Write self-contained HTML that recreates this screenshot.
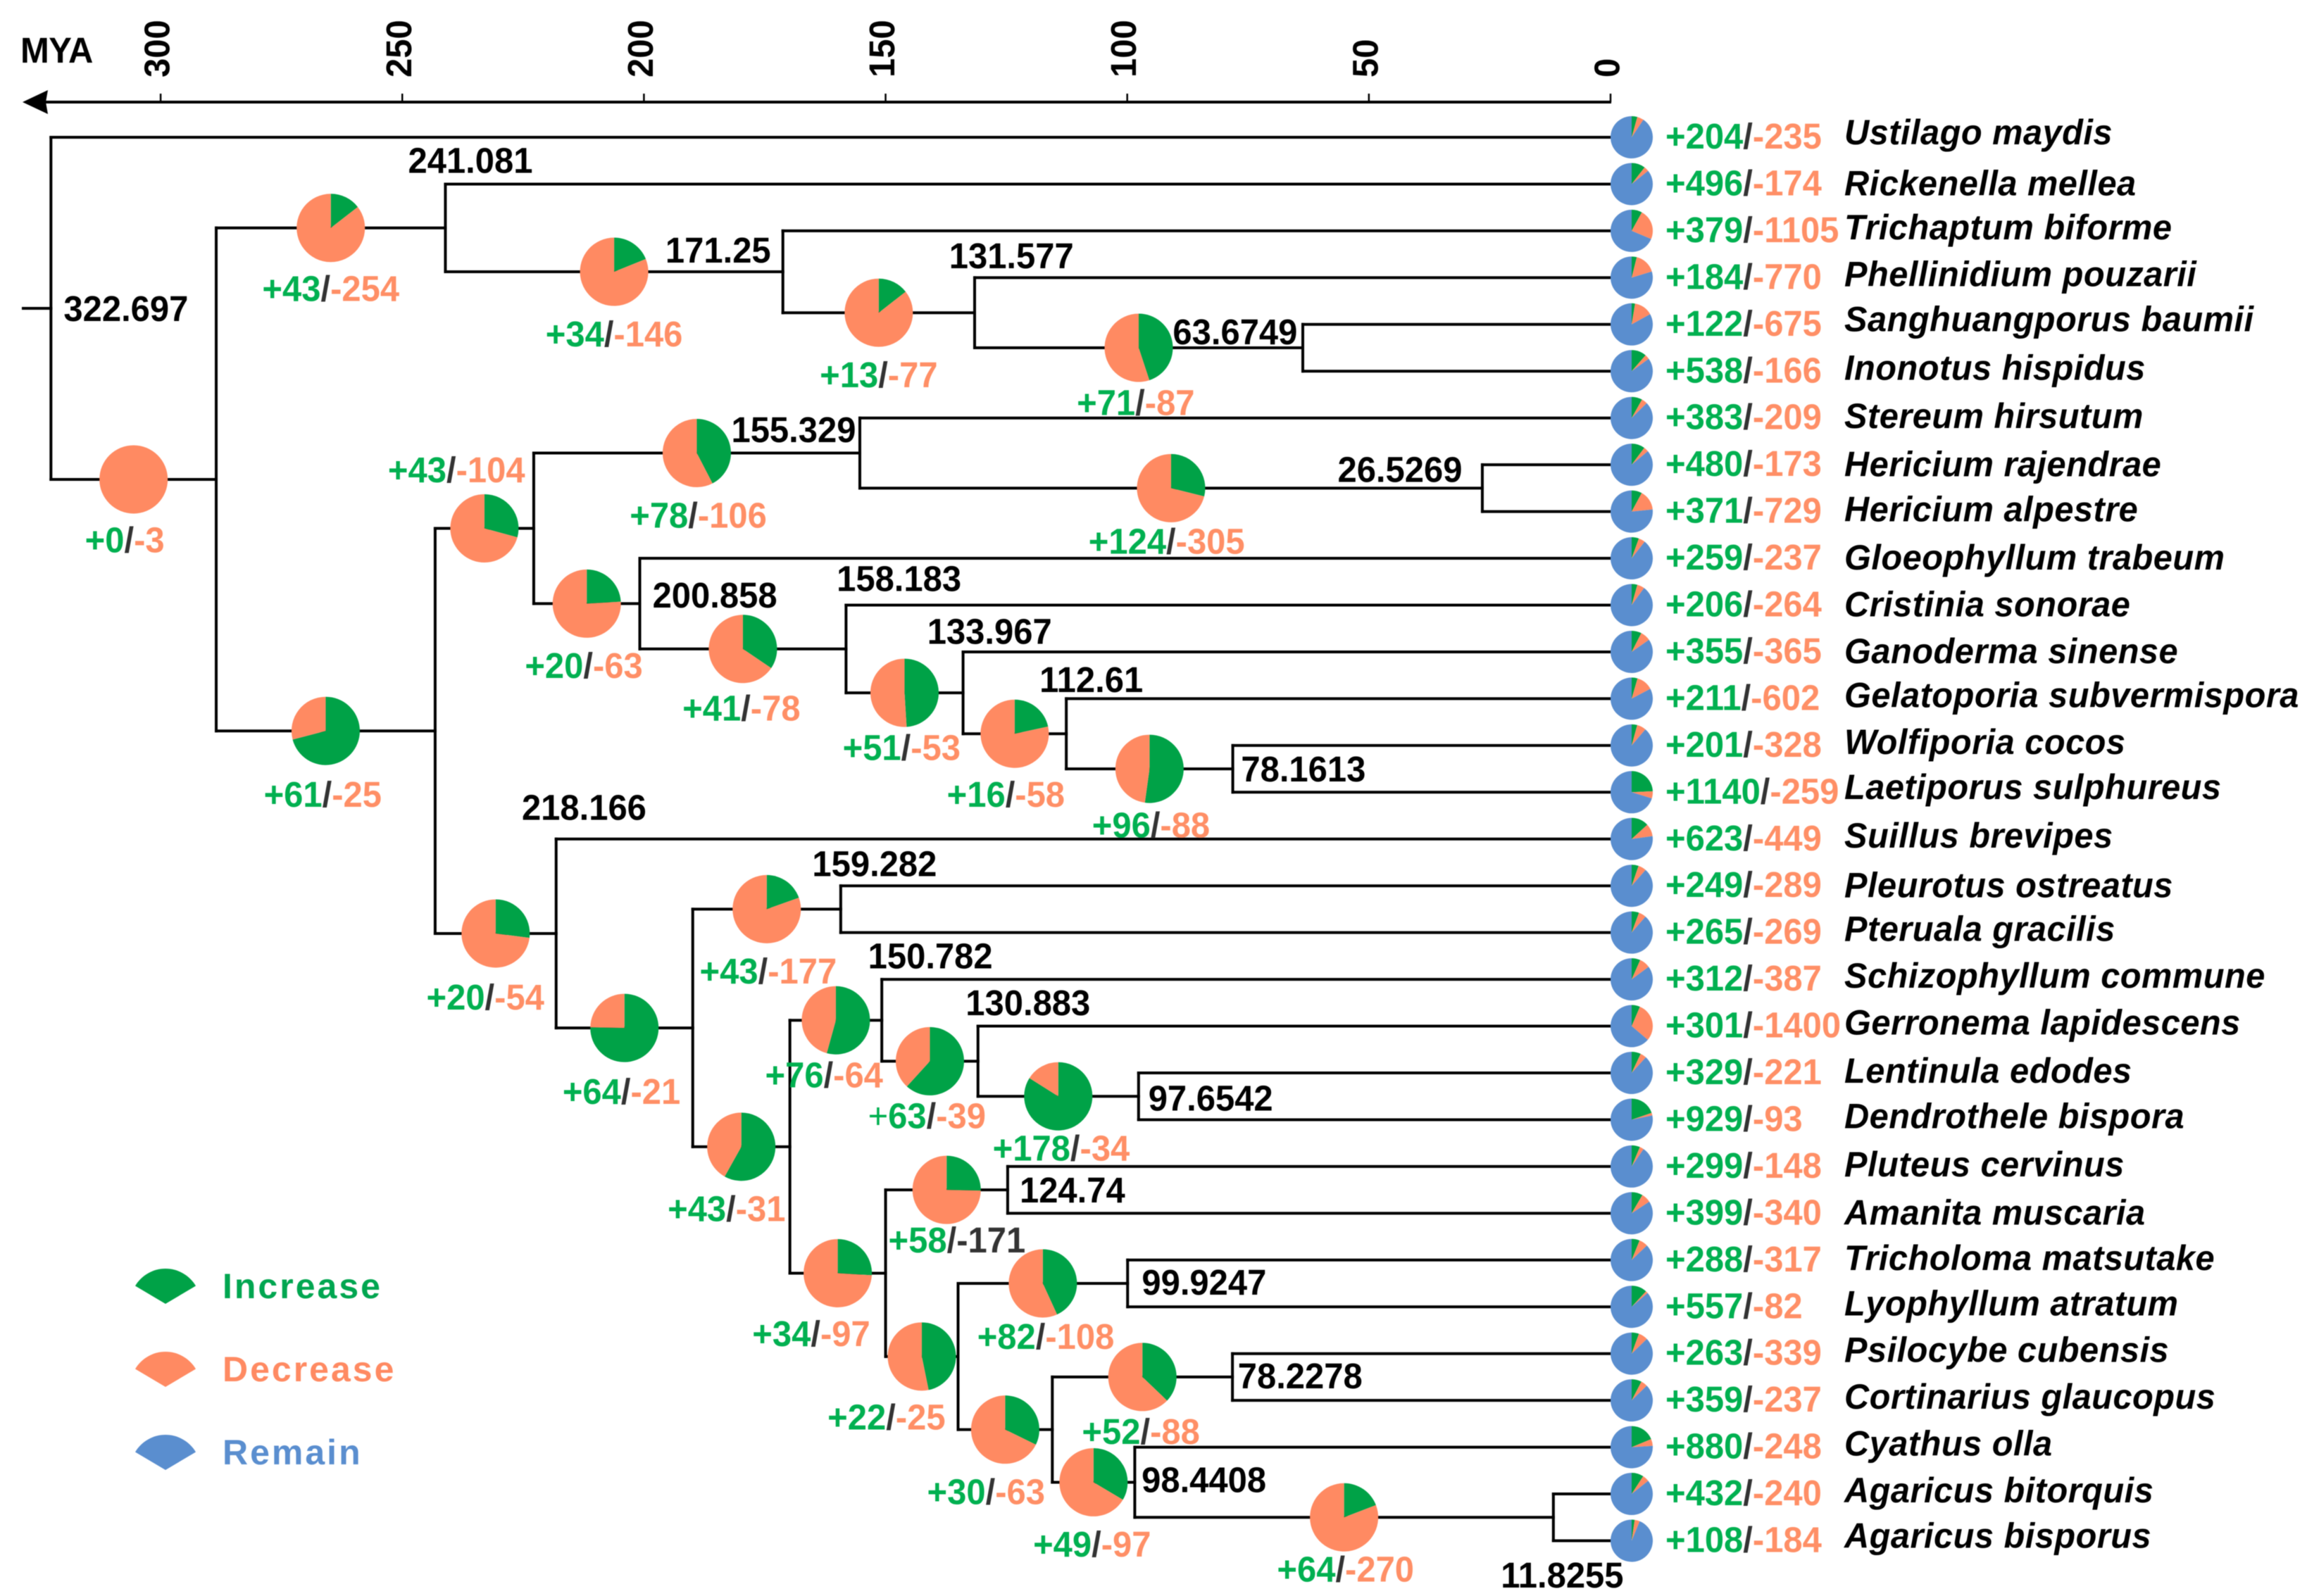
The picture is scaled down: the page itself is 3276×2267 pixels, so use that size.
<!DOCTYPE html>
<html lang="en">
<head>
<meta charset="utf-8">
<title>Gene family expansion and contraction on a dated phylogeny</title>
<style>
html,body{margin:0;padding:0;background:#fff;}
svg{display:block;filter:blur(0.6px);}
text{font-family:"Liberation Sans",Arial,sans-serif;font-weight:700;}
</style>
</head>
<body>
<svg id="chart" xmlns="http://www.w3.org/2000/svg" width="3276" height="2267" viewBox="0 0 3276 2267">
  <rect width="3276" height="2267" fill="#fff"/>
  <g id="axis"></g>
  <g id="branches"></g>
  <g id="pies"></g>
  <g id="labels"></g>
  <g id="legend">
    <g>
      <path d="M235 1852 L192 1826.5 A50 50 0 0 1 278 1826.5 Z" fill="#00A247"/>
      <text x="316" y="1844" font-size="50" letter-spacing="3" fill="#00A650">Increase</text>
    </g>
    <g>
      <path d="M235 1970 L192 1944.5 A50 50 0 0 1 278 1944.5 Z" fill="#FF8A62"/>
      <text x="316" y="1962" font-size="50" letter-spacing="3" fill="#FF8A62">Decrease</text>
    </g>
    <g>
      <path d="M235 2088 L192 2062.5 A50 50 0 0 1 278 2062.5 Z" fill="#5A8ECF"/>
      <text x="316" y="2080" font-size="50" letter-spacing="3" fill="#5A8ECF">Remain</text>
    </g>
  </g>
</svg>
<script>
/* ---------- data ---------- */
const tickValues = [300, 250, 200, 150, 100, 50, 0];

const nodeIds     = ['r','a','b','c','d','e','f','g','h','i','j','k','l','m','n','o','p','q','s','t','u','v','w','x','y','z','aa','ab','ac','ad'];
const nodeParents = [null,'r','a','b','c','d','a','f','g','h','g','j','k','l','m','f','o','p','p','s','t','u','s','w','w','y','y','aa','aa','ac'];
const nodeAges    = [322.697,288.5,241.081,171.25,131.577,63.6749,243.2,222.8,155.329,26.5269,200.858,158.183,133.967,112.61,78.1613,218.166,189.9,159.282,169.8,150.782,130.883,97.6542,150,124.74,135,99.9247,115.5,78.2278,98.4408,11.8255];
const nodeGains   = [null,0,43,34,13,71,61,43,78,124,20,41,51,16,96,20,64,43,43,76,63,178,34,58,22,82,30,52,49,64];
const nodeLosses  = [null,3,254,146,77,87,25,104,106,305,63,78,53,58,88,54,21,177,31,64,39,34,97,171,25,108,63,88,97,270];
const printedAges = ['322.697',null,'241.081','171.25','131.577','63.6749',null,null,'155.329','26.5269','200.858','158.183','133.967','112.61','78.1613','218.166',null,'159.282',null,'150.782','130.883','97.6542',null,'124.74',null,'99.9247',null,'78.2278','98.4408','11.8255'];

const leafNames   = ['Ustilago maydis','Rickenella mellea','Trichaptum biforme','Phellinidium pouzarii','Sanghuangporus baumii','Inonotus hispidus','Stereum hirsutum','Hericium rajendrae','Hericium alpestre','Gloeophyllum trabeum','Cristinia sonorae','Ganoderma sinense','Gelatoporia subvermispora','Wolfiporia cocos','Laetiporus sulphureus','Suillus brevipes','Pleurotus ostreatus','Pteruala gracilis','Schizophyllum commune','Gerronema lapidescens','Lentinula edodes','Dendrothele bispora','Pluteus cervinus','Amanita muscaria','Tricholoma matsutake','Lyophyllum atratum','Psilocybe cubensis','Cortinarius glaucopus','Cyathus olla','Agaricus bitorquis','Agaricus bisporus'];
const leafParents = ['r','b','c','d','e','e','h','i','i','j','k','l','m','n','n','o','q','q','t','u','v','v','x','x','z','z','ab','ab','ac','ad','ad'];
const leafGains   = [204,496,379,184,122,538,383,480,371,259,206,355,211,201,1140,623,249,265,312,301,329,929,299,399,288,557,263,359,880,432,108];
const leafLosses  = [235,174,1105,770,675,166,209,173,729,237,264,365,602,328,259,449,289,269,387,1400,221,93,148,340,317,82,339,237,248,240,184];
const leafRemains = [4250,4050,3250,3750,3900,4000,4100,4050,3600,4200,4250,3980,3890,4170,3300,3630,4160,4170,4000,3000,4150,3680,4250,3960,4100,4060,4100,4100,3570,4030,4400];

/* ---------- layout (kept apart from the data) ---------- */
const ZERO_X = 2287, PX_PER_MYA = 6.863, LEAF_TOP = 195, LEAF_STEP = 66.45;
const UNIT = 2.0893;
const GREEN = '#00A247', ORANGE = '#FF8A62', BLUE = '#5A8ECF';
const TEXT_GREEN = '#00B050', TEXT_ORANGE = '#FF8F66', SLASH = '#333';
const SQUEEZE = 0.96;
const xScale = mya => ZERO_X - mya * PX_PER_MYA;
const yLeaf  = i => LEAF_TOP + i * LEAF_STEP;

const ageLabelOffset = {r:[51,1],b:[17,-45],c:[-44,-14],d:[25,-38],e:[-46,-10],h:[-45,-15],i:[-56,-12],j:[51,-5],k:[36,-47],l:[18,-41],m:[17,-36],n:[48,1],o:[19,-85],q:[23,-30],t:[33,-43],u:[34,-39],v:[49,2],x:[44,1],z:[52,0],ab:[46,0],ac:[47,-1],ad:[6,40]};
const countLabelOffset = {a:[-6,41],b:[0,41],c:[0,42],d:[0,42],e:[-2,37],f:[-2,43],g:[-19,-40],h:[1,42],i:[-3,36],j:[-2,42],k:[-1,40],l:[-2,37],m:[-6,41],n:[1,38],o:[-7,43],p:[-2,43],q:[1,42],s:[-10,42],t:[-8,37],u:[-2,37],v:[2,35],w:[-18,41],x:[7,34],y:[-24,41],z:[2,36],aa:[-13,42],ab:[-1,37],ac:[-1,42],ad:[1,35]};
const speciesLabelNudge = [-1,2,0,0,-1,0,1,2,1,2,2,2,0,0,-1,0,2,0,0,0,1,0,1,2,1,0,0,0,0,0,-1];

/* ---------- helpers ---------- */
const NS = 'http://www.w3.org/2000/svg';
function mk(tag, parent, attrs) {
  const el = document.createElementNS(NS, tag);
  for (const k in attrs) el.setAttribute(k, attrs[k]);
  parent.appendChild(el);
  return el;
}
function slug(s) { return s.toLowerCase().replace(/[^a-z0-9]+/g, '-'); }
function at(x, y, sx) { return 'translate(' + x + ',' + y + ') scale(' + sx + ',1)'; }

/* ---------- node geometry ---------- */
const nodeX = {}, nodeY = {}, kids = {};
nodeIds.forEach((id, i) => { nodeX[id] = xScale(nodeAges[i]); kids[id] = []; });
leafParents.forEach((p, i) => { kids[p].push({leaf: i}); });
nodeParents.forEach((p, i) => { if (p) kids[p].push({node: nodeIds[i]}); });
function resolveY(id) {
  const ys = kids[id].map(k => k.node ? resolveY(k.node) : yLeaf(k.leaf));
  nodeY[id] = (Math.min.apply(null, ys) + Math.max.apply(null, ys)) / 2;
  return nodeY[id];
}
resolveY('r');

/* ---------- axis ---------- */
const axisG = document.getElementById('axis');
const axisLine = mk('line', axisG, {x1: 60, y1: 145, x2: xScale(0) + 1, y2: 145, stroke: '#000', 'stroke-width': 4});


const axisArrow = mk('path', axisG, {d: 'M32 145 L68 128 L65 145 L68 162 Z', fill: '#000'});


const axisTitle = mk('text', axisG, {transform: at(29, 89, SQUEEZE), 'font-size': 51, fill: '#000', 'letter-spacing': -0.5});


axisTitle.textContent = 'MYA';
tickValues.forEach(t => {
  const x = xScale(t);
  const tick = mk('line', axisG, {x1: x, y1: 133, x2: x, y2: 145, stroke: '#000', 'stroke-width': 2.5});
  
  
  const lbl = mk('text', axisG, {transform: 'translate(' + (x + 12.5) + ',110) rotate(-90) scale(' + SQUEEZE + ',1)', 'font-size': 51, fill: '#000'});
  
  
  lbl.textContent = String(t);
});

/* ---------- branches ---------- */
const brG = document.getElementById('branches');
function branch(x1, y1, x2, y2, name) {
  const l = mk('line', brG, {x1: x1, y1: y1, x2: x2, y2: y2, stroke: '#000', 'stroke-width': 4, 'stroke-linecap': 'square'});
  
  
}
branch(33, nodeY.r, nodeX.r, nodeY.r, 'root-stub');
nodeIds.forEach((id, i) => {
  const ys = kids[id].map(k => k.node ? nodeY[k.node] : yLeaf(k.leaf));
  branch(nodeX[id], Math.min.apply(null, ys), nodeX[id], Math.max.apply(null, ys), 'node-stem-' + id);
  const p = nodeParents[i];
  if (p) branch(nodeX[p], nodeY[id], nodeX[id], nodeY[id], 'branch-' + id);
});
leafNames.forEach((n, i) => {
  branch(nodeX[leafParents[i]], yLeaf(i), ZERO_X, yLeaf(i), 'branch-' + slug(n));
});

/* ---------- pies ---------- */
const pieG = document.getElementById('pies');
function drawPie(cx, cy, r, values, name) {
  const g = mk('g', pieG, {});
  
  
  const colors = [GREEN, ORANGE, BLUE];
  const partNames = ['increase', 'decrease', 'remain'];
  const total = values.reduce((a, b) => a + b, 0);
  let acc = 0;
  values.forEach((v, i) => {
    if (v <= 0) return;
    const frac = v / total;
    let el;
    if (frac > 0.9995) {
      el = mk('circle', g, {cx: cx, cy: cy, r: r, fill: colors[i]});
    } else {
      const a0 = acc * 2 * Math.PI, a1 = (acc + frac) * 2 * Math.PI;
      const x0 = cx + r * Math.sin(a0), y0 = cy - r * Math.cos(a0);
      const x1 = cx + r * Math.sin(a1), y1 = cy - r * Math.cos(a1);
      el = mk('path', g, {d: 'M' + cx + ' ' + cy + ' L' + x0 + ' ' + y0 + ' A' + r + ' ' + r + ' 0 ' + (frac > 0.5 ? 1 : 0) + ' 1 ' + x1 + ' ' + y1 + ' Z', fill: colors[i]});
    }
    
    
    acc += frac;
  });
}
nodeIds.forEach((id, i) => {
  const p = nodeParents[i];
  if (!p) return;
  drawPie((nodeX[p] + nodeX[id]) / 2, nodeY[id], 48.5, [nodeGains[i], nodeLosses[i]], 'pie-node-' + id);
});
leafNames.forEach((n, i) => {
  drawPie(ZERO_X + 30, yLeaf(i), 30, [leafGains[i], leafLosses[i], leafRemains[i]], 'pie-' + slug(n));
});

/* ---------- labels ---------- */
const lbG = document.getElementById('labels');
function countLabel(x, y, anchor, gain, loss, lossColor, thinPlus, name) {
  const t = mk('text', lbG, {transform: at(x, y, SQUEEZE), 'text-anchor': anchor, 'font-size': 51});
  
  
  const plus = mk('tspan', t, {fill: TEXT_GREEN, 'font-weight': thinPlus ? 400 : 700}); plus.textContent = '+';
  const a = mk('tspan', t, {fill: TEXT_GREEN}); a.textContent = String(gain);
  const b = mk('tspan', t, {fill: SLASH}); b.textContent = '/';
  const c = mk('tspan', t, {fill: lossColor}); c.textContent = '-' + loss;
}
nodeIds.forEach((id, i) => {
  if (printedAges[i]) {
    const o = ageLabelOffset[id];
    const t = mk('text', lbG, {transform: at(nodeX[id] + o[0] * UNIT, nodeY[id] + o[1] * UNIT + 16, SQUEEZE), 'text-anchor': 'middle', 'font-size': 51, fill: '#000'});
    
    
    t.textContent = printedAges[i];
  }
  const p = nodeParents[i];
  if (p) {
    const o2 = countLabelOffset[id];
    const cx = (nodeX[p] + nodeX[id]) / 2;
    countLabel(cx + o2[0] * UNIT, nodeY[id] + o2[1] * UNIT + 18, 'middle', nodeGains[i], nodeLosses[i], id === 'x' ? SLASH : TEXT_ORANGE, id === 'u', 'count-label-' + id);
  }
});
leafNames.forEach((n, i) => {
  countLabel(2365, yLeaf(i) + 16, 'start', leafGains[i], leafLosses[i], TEXT_ORANGE, false, 'count-label-' + slug(n));
  const t = mk('text', lbG, {transform: at(2619, yLeaf(i) + 12 + speciesLabelNudge[i] * UNIT, 0.975), 'font-size': 50, 'font-style': 'italic', fill: '#000', 'letter-spacing': 0.5});
  
  
  t.textContent = n;
});
</script>
</body>
</html>
